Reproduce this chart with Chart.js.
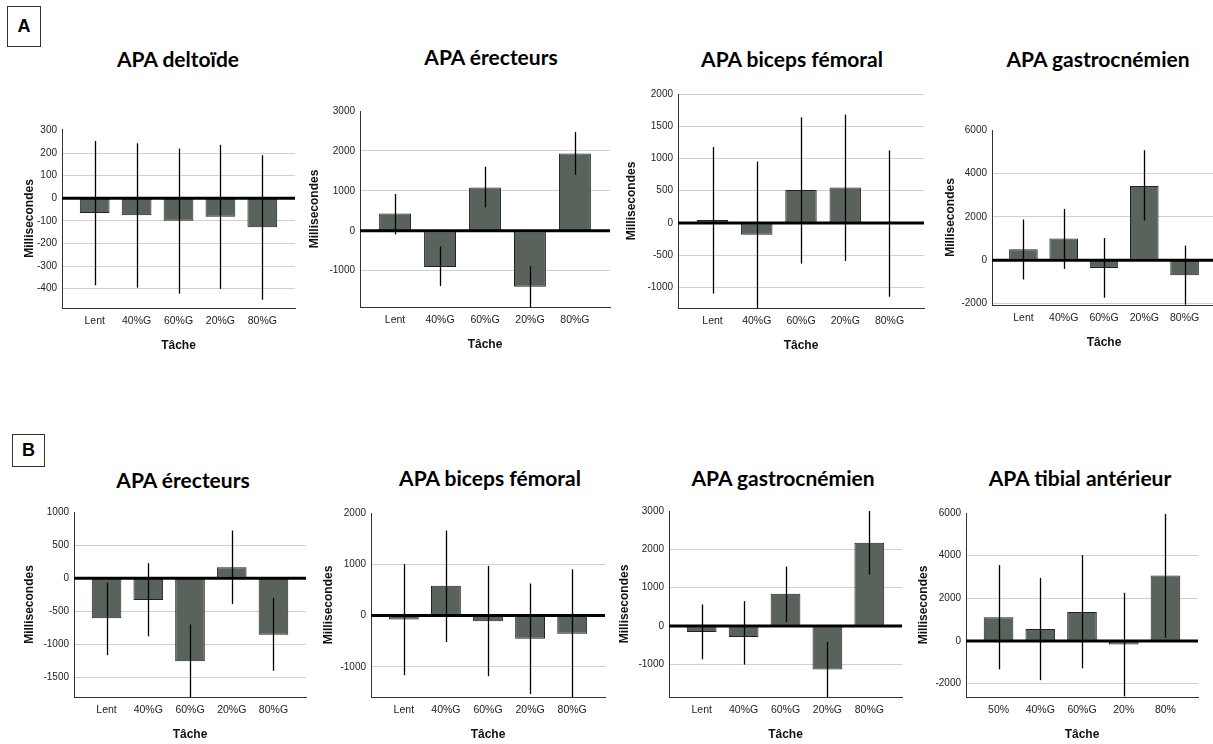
<!DOCTYPE html>
<html>
<head>
<meta charset="utf-8">
<script src="https://cdn.jsdelivr.net/npm/chart.js@4.4.1/dist/chart.umd.min.js"></script>
<style>
html, body { margin: 0; padding: 0; background: #fff; }
body { width: 1213px; height: 744px; position: relative; overflow: hidden; }
.titre { position: absolute; font: bold 21px Lato, sans-serif; color: #000; transform: translate(-50%, -50%); white-space: nowrap; }
.tag { position: absolute; border: 1px solid #333; box-sizing: border-box; font: bold 18px 'Liberation Sans', Arial, sans-serif;
       display: flex; align-items: center; justify-content: center; }
canvas { position: absolute; }
</style>
</head>
<body>
<div class="tag" style="left:7px;top:6px;width:34px;height:41px">A</div>
<div class="tag" style="left:12px;top:434px;width:33px;height:33px">B</div>
<script>
// categories
const tasks = ['Lent', '40%G', '60%G', '20%G', '80%G'];
const tasksTibial = ['50%', '40%G', '60%G', '20%', '80%'];

// A : moyennes + bornes des barres d'erreur (ms)
const deltoideA = [-65, -75, -100, -82, -128];
const deltoideA_low = [-385, -396, -422, -401, -449];
const deltoideA_high = [254, 244, 220, 237, 191];

const erecteursA = [432, -905, 1087, -1402, 1934];
const erecteursA_low = [-91, -1386, 589, -1916, 1402];
const erecteursA_high = [921, -390, 1602, -888, 2473];

const bicepsA = [46, -185, 509, 550, -10];
const bicepsA_low = [-1095, -1321, -632, -591, -1146];
const bicepsA_high = [1177, 951, 1639, 1680, 1125];

const gastroA = [504, 1008, -351, 3420, -687];
const gastroA_low = [-885, -397, -1725, 1832, -2046];
const gastroA_high = [1878, 2366, 1023, 5069, 672];

// B
const erecteursB = [-605, -330, -1255, 165, -855];
const erecteursB_low = [-1165, -880, -1810, -390, -1400];
const erecteursB_high = [-70, 225, -700, 720, -300];

const bicepsB = [-77, 581, -110, -452, -355];
const bicepsB_low = [-1161, -516, -1181, -1529, -1613];
const bicepsB_high = [1000, 1658, 968, 626, 903];

const gastroB = [-156, -286, 840, -1134, 2173];
const gastroB_low = [-866, -1004, 104, -1852, 1342];
const gastroB_high = [563, 649, 1550, -416, 3004];

const tibialB = [1114, 560, 1361, -170, 3063];
const tibialB_low = [-1330, -1840, -1284, -2600, 155];
const tibialB_high = [3558, 2960, 4021, 2258, 5955];

// tick labels
const ticksDeltoideA = [-400, -300, -200, -100, 0, 100, 200, 300];
const ticksErecteursA = [-1000, 0, 1000, 2000, 3000];
const ticksBicepsA = [-1000, -500, 0, 500, 1000, 1500, 2000];
const ticksGastroA = [-2000, 0, 2000, 4000, 6000];
const ticksErecteursB = [-1500, -1000, -500, 0, 500, 1000];
const ticksBicepsB = [-1000, 0, 1000, 2000];
const ticksGastroB = [-1000, 0, 1000, 2000, 3000];
const ticksTibialB = [-2000, 0, 2000, 4000, 6000];

// panneaux : box = [gauche, haut, droite, bas] de la zone de tracé
const panels = [
  { title: 'APA deltoïde', labels: tasks, mean: deltoideA, low: deltoideA_low, high: deltoideA_high,
    ticks: ticksDeltoideA, min: -486, max: 307, box: [62, 128, 295, 308], at: [178, 58], gap: 33 },
  { title: 'APA érecteurs', labels: tasks, mean: erecteursA, low: erecteursA_low, high: erecteursA_high,
    ticks: ticksErecteursA, min: -1908, max: 3000, box: [360, 110, 610, 307], at: [491, 56], gap: 46 },
  { title: 'APA biceps fémoral', labels: tasks, mean: bicepsA, low: bicepsA_low, high: bicepsA_high,
    ticks: ticksBicepsA, min: -1320, max: 2000, box: [678, 93, 924, 308], at: [792, 58], gap: 47, topGrid: true },
  { title: 'APA gastrocnémien', labels: tasks, mean: gastroA, low: gastroA_low, high: gastroA_high,
    ticks: ticksGastroA, min: -2060, max: 6000, box: [992, 129, 1216, 305], at: [1098, 58], gap: 42 },
  { title: 'APA érecteurs', labels: tasks, mean: erecteursB, low: erecteursB_low, high: erecteursB_high,
    ticks: ticksErecteursB, min: -1797, max: 1000, box: [74, 511, 306, 697], at: [183, 479], gap: 45 },
  { title: 'APA biceps fémoral', labels: tasks, mean: bicepsB, low: bicepsB_low, high: bicepsB_high,
    ticks: ticksBicepsB, min: -1586, max: 2000, box: [371, 512, 605, 697], at: [490, 477], gap: 43 },
  { title: 'APA gastrocnémien', labels: tasks, mean: gastroB, low: gastroB_low, high: gastroB_high,
    ticks: ticksGastroB, min: -1850, max: 3000, box: [669, 510, 902, 697], at: [783, 477], gap: 45 },
  { title: 'APA tibial antérieur', labels: tasksTibial, mean: tibialB, low: tibialB_low, high: tibialB_high,
    ticks: ticksTibialB, min: -2630, max: 6000, box: [966, 512, 1198, 697], at: [1080, 477], gap: 43 }
];

const arial = "'Liberation Sans', Arial, sans-serif";
const padTop = 10, padRight = 4, xH = 52;

panels.forEach(p => {
  const [l, t, r, b] = p.box;
  const yW = p.gap + 8;

  const tt = document.createElement('div');
  tt.className = 'titre';
  tt.textContent = p.title;
  tt.style.left = p.at[0] + 'px';
  tt.style.top = p.at[1] + 'px';
  document.body.appendChild(tt);

  const cv = document.createElement('canvas');
  cv.width = yW + (r - l) + padRight;
  cv.height = padTop + (b - t) + xH;
  cv.style.left = (l - yW) + 'px';
  cv.style.top = (t - padTop) + 'px';
  document.body.appendChild(cv);

  // ligne du zéro + barres d'erreur
  const errPlugin = {
    id: 'errbars',
    afterDatasetsDraw(chart) {
      const { ctx, chartArea: a, scales: { x, y } } = chart;
      ctx.save();
      ctx.beginPath();
      ctx.rect(a.left, a.top, a.right - a.left, a.bottom - a.top);
      ctx.clip();
      const y0 = y.getPixelForValue(0);
      ctx.strokeStyle = '#000';
      ctx.lineWidth = 3;
      ctx.beginPath();
      ctx.moveTo(a.left, y0);
      ctx.lineTo(a.right, y0);
      ctx.stroke();
      ctx.lineWidth = 1.3;
      p.low.forEach((lo, i) => {
        const px = Math.round(x.getPixelForValue(i)) + 0.5;
        ctx.beginPath();
        ctx.moveTo(px, y.getPixelForValue(p.high[i]));
        ctx.lineTo(px, y.getPixelForValue(lo));
        ctx.stroke();
      });
      ctx.restore();
    }
  };

  const topTick = p.ticks[p.ticks.length - 1];

  new Chart(cv, {
    type: 'bar',
    data: {
      datasets: [{
        data: p.mean.map((v, i) => ({ x: i, y: v })),
        backgroundColor: '#5a625c',
        borderColor: '#222',
        borderWidth: 1,
        borderSkipped: false,
        barPercentage: 0.71,
        categoryPercentage: 1
      }]
    },
    options: {
      responsive: false,
      animation: false,
      devicePixelRatio: 1,
      layout: { padding: { top: padTop, right: padRight, left: 0, bottom: 0 } },
      plugins: { legend: { display: false }, tooltip: { enabled: false } },
      scales: {
        x: {
          type: 'linear',
          offset: false,
          min: -0.78,
          max: 4.78,
          grid: { display: false, drawTicks: false },
          border: { color: '#333', width: 1 },
          afterBuildTicks: s => { s.ticks = p.labels.map((_, i) => ({ value: i })); },
          afterFit: s => { s.height = xH; },
          ticks: {
            callback: v => p.labels[v],
            font: { family: arial, size: 10.5 },
            color: '#222',
            padding: 7,
            maxRotation: 0,
            autoSkip: false
          },
          title: {
            display: true,
            text: 'Tâche',
            font: { family: arial, size: 12, weight: 'bold' },
            color: '#111',
            padding: { top: 0, bottom: 7 }
          }
        },
        y: {
          min: p.min,
          max: p.max,
          afterBuildTicks: s => { s.ticks = p.ticks.map(v => ({ value: v })); },
          afterFit: s => { s.width = yW; },
          grid: {
            drawTicks: false,
            lineWidth: 1,
            color: c => (c.tick.value === 0 || (c.tick.value === topTick && !p.topGrid)) ? 'rgba(0,0,0,0)' : '#cfcfcf'
          },
          border: { color: '#333', width: 1 },
          ticks: {
            padding: 5,
            callback: v => String(v),
            font: { family: arial, size: 10 },
            color: '#222'
          },
          title: {
            display: true,
            text: 'Millisecondes',
            font: { family: arial, size: 12, weight: 'bold' },
            color: '#111',
            padding: { top: 1, bottom: 0 }
          }
        }
      }
    },
    plugins: [errPlugin]
  });
});
</script>
</body>
</html>
